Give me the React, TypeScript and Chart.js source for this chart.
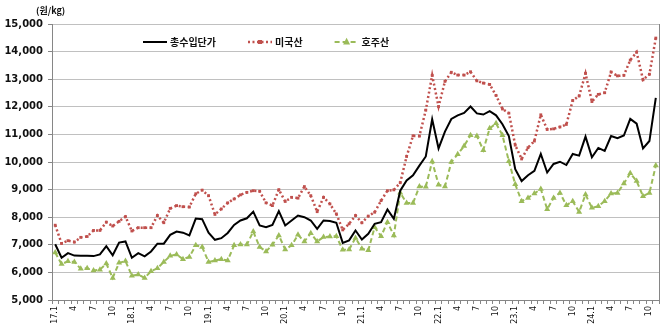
import React, { useEffect, useRef } from 'react';
import { Chart, registerables } from 'chart.js';

Chart.register(...registerables);

// ---- data ----
const years = ['17', '18', '19', '20', '21', '22', '23', '24'];
const monthsInLastYear = 11;
const labelMonths = [1, 4, 7, 10];
const seriesNames = ['총수입단가', '미국산', '호주산'];
const unitLabel = '(원/kg)';
const yMin = 5000;
const yMax = 15000;
const yStep = 1000;

const totalPrice = [
  7020, 6530, 6700, 6610, 6600, 6600, 6590, 6650, 6950, 6620, 7080, 7120,
  6530, 6700, 6580, 6760, 7040, 7040, 7360, 7480, 7440, 7340, 7950, 7930,
  7440, 7180, 7240, 7430, 7720, 7880, 7960, 8200, 7700, 7640, 7720, 8220,
  7700, 7880, 8060, 8000, 7880, 7580, 7880, 7860, 7800, 7070, 7160, 7520,
  7190, 7400, 7760, 7820, 8280, 7940, 8960, 9330, 9520, 9870, 10200, 11550,
  10490, 11100, 11560, 11690, 11780, 12010, 11760, 11720, 11840, 11690, 11370, 10940,
  9740, 9310, 9520, 9680, 10290, 9620, 9930, 10010, 9890, 10290, 10230, 10920,
  10170, 10510, 10400, 10940, 10860, 10960, 11560, 11390, 10490, 10760, 12320,
];

const usPrice = [
  7710, 7050, 7150, 7100, 7270, 7300, 7520, 7520, 7820, 7680, 7850, 8020,
  7500, 7620, 7620, 7620, 8060, 7800, 8320, 8420, 8380, 8370, 8850, 8980,
  8780, 8100, 8300, 8520, 8660, 8810, 8900, 8960, 8940, 8520, 8420, 9000,
  8570, 8720, 8690, 9110, 8780, 8200, 8720, 8480, 8120, 7540, 7760, 8060,
  7800, 8040, 8180, 8600, 8960, 8990, 9250, 10200, 10950, 10940, 11880, 13140,
  12010, 12920, 13250, 13150, 13150, 13270, 12940, 12860, 12810, 12410, 11920, 11770,
  10610, 10110, 10520, 10760, 11710, 11180, 11200, 11270, 11360, 12230, 12390, 13210,
  12190, 12450, 12510, 13260, 13120, 13140, 13690, 13980, 12980, 13180, 14490,
];

const auPrice = [
  6720, 6300, 6400, 6380, 6130, 6150, 6070, 6100, 6320, 5800, 6350, 6410,
  5880, 5920, 5800, 6040, 6150, 6380, 6600, 6650, 6480, 6560, 6980, 6920,
  6380, 6430, 6480, 6430, 6980, 7010, 7010, 7480, 6920, 6760, 7000, 7340,
  6830, 6980, 7360, 7120, 7420, 7120, 7280, 7300, 7310, 6820, 6830, 7250,
  6860, 6800, 7640, 7310, 7820, 7340, 8890, 8510, 8510, 9110, 9100, 10020,
  9180, 9110, 10000, 10280, 10580, 10970, 10940, 10430, 11220, 11400, 10970, 10030,
  9190, 8580, 8700, 8860, 9020, 8290, 8700, 8880, 8430, 8580, 8190, 8820,
  8340, 8400, 8580, 8860, 8880, 9220, 9590, 9310, 8760, 8880, 9870,
];

const categories: string[] = [];
years.forEach((y, yi) => {
  const n = yi === years.length - 1 ? monthsInLastYear : 12;
  for (let m = 1; m <= n; m++) categories.push(`${y}.${m}`);
});

const AXIS = '#868686';
const GRID = '#C0C0C0';

const inlineLegend = {
  id: 'inlineLegend',
  afterDatasetsDraw(chart: any) {
    const ctx = chart.ctx as CanvasRenderingContext2D;
    const area = chart.chartArea;
    const y = area.top + 18;
    let x = area.left + 91;
    ctx.save();
    ctx.font = 'bold 10px "Noto Sans CJK KR"';
    ctx.textBaseline = 'middle';
    ctx.textAlign = 'left';
    chart.data.datasets.forEach((ds: any) => {
      const len = 24;
      ctx.strokeStyle = ds.borderColor;
      ctx.lineWidth = ds.borderWidth;
      ctx.setLineDash(ds.borderDash || []);
      ctx.beginPath();
      ctx.moveTo(x, y);
      ctx.lineTo(x + len, y);
      ctx.stroke();
      ctx.setLineDash([]);
      const cx = x + len / 2;
      const r = ds.pointRadius || 0;
      if (r > 0) {
        ctx.fillStyle = ds.pointBackgroundColor;
        ctx.beginPath();
        if (ds.pointStyle === 'rect') {
          ctx.rect(cx - r, y - r, 2 * r, 2 * r);
        } else if (ds.pointStyle === 'triangle') {
          ctx.moveTo(cx, y - r * 1.2);
          ctx.lineTo(cx + r, y + r * 0.7);
          ctx.lineTo(cx - r, y + r * 0.7);
          ctx.closePath();
        }
        ctx.fill();
      }
      ctx.fillStyle = '#111';
      ctx.fillText(ds.label, x + len + 3, y);
      x += len + 3 + ctx.measureText(ds.label).width + 32;
    });
    ctx.restore();
  },
};

const rightBorder = {
  id: 'rightBorder',
  beforeDatasetsDraw(chart: any) {
    const ctx = chart.ctx as CanvasRenderingContext2D;
    const a = chart.chartArea;
    ctx.save();
    ctx.strokeStyle = AXIS;
    ctx.lineWidth = 1;
    ctx.beginPath();
    ctx.moveTo(Math.round(a.right) + 0.5, a.top);
    ctx.lineTo(Math.round(a.right) + 0.5, a.bottom);
    ctx.stroke();
    ctx.restore();
  },
};

const unitTitle = {
  id: 'unitTitle',
  afterDraw(chart: any) {
    const ctx = chart.ctx as CanvasRenderingContext2D;
    ctx.save();
    ctx.font = 'bold 9px "Noto Sans CJK KR"';
    ctx.fillStyle = '#111';
    ctx.textBaseline = 'middle';
    ctx.textAlign = 'left';
    ctx.fillText(unitLabel, 36, 11);
    ctx.restore();
  },
};

export default function App() {
  const ref = useRef<HTMLCanvasElement | null>(null);

  useEffect(() => {
    if (!ref.current) return;
    const chart = new Chart(ref.current, {
      type: 'line',
      data: {
        labels: categories,
        datasets: [
          {
            label: seriesNames[0],
            data: totalPrice,
            borderColor: '#000000',
            backgroundColor: '#000000',
            borderWidth: 2,
            pointRadius: 0,
            tension: 0,
          },
          {
            label: seriesNames[1],
            data: usPrice,
            borderColor: '#C0504D',
            backgroundColor: '#C0504D',
            borderWidth: 2.5,
            borderDash: [2, 2.5],
            pointStyle: 'rect',
            pointRadius: 2,
            pointBackgroundColor: '#C0504D',
            pointBorderWidth: 0,
            tension: 0,
          },
          {
            label: seriesNames[2],
            data: auPrice,
            borderColor: '#9BBB59',
            backgroundColor: '#9BBB59',
            borderWidth: 2,
            borderDash: [5, 3],
            pointStyle: 'triangle',
            pointRadius: 3.5,
            pointBackgroundColor: '#9BBB59',
            pointBorderWidth: 0,
            tension: 0,
          },
        ],
      } as any,
      options: {
        animation: false,
        responsive: true,
        maintainAspectRatio: false,
        devicePixelRatio: 1,
        layout: { padding: { left: 0, right: 10, top: 24, bottom: 0 } },
        plugins: {
          legend: { display: false },
          tooltip: { enabled: false },
          title: { display: false },
        },
        scales: {
          x: {
            type: 'category',
            offset: true,
            grid: {
              drawOnChartArea: false,
              offset: true,
              tickLength: 4,
              tickColor: AXIS,
            },
            border: { color: AXIS, width: 1 },
            ticks: {
              autoSkip: false,
              maxRotation: 90,
              minRotation: 90,
              padding: 2,
              color: '#111',
              font: { family: '"DejaVu Sans"', size: 8 },
              callback: (_v: any, index: number) => {
                const [yy, mm] = categories[index].split('.');
                const m = Number(mm);
                if (m === 1) return `${yy}.${mm}`;
                return labelMonths.includes(m) ? mm : '';
              },
            },
            afterFit: (scale: any) => {
              scale.height = 30;
            },
          },
          y: {
            min: yMin,
            max: yMax,
            grid: { color: GRID, tickLength: 4, tickColor: AXIS },
            border: { color: AXIS, width: 1 },
            ticks: {
              stepSize: yStep,
              padding: 5,
              color: '#111',
              font: { family: '"DejaVu Sans"', size: 10, weight: 'bold' },
              callback: (v: any) => Number(v).toLocaleString('en-US'),
            },
            afterFit: (scale: any) => {
              scale.width = 52;
            },
          },
        },
      } as any,
      plugins: [rightBorder, inlineLegend, unitTitle],
    });
    return () => chart.destroy();
  }, []);

  return (
    <div style={{ position: 'absolute', left: 0, top: 0, width: 669, height: 330, background: '#fff' }}>
      <canvas ref={ref} />
    </div>
  );
}
